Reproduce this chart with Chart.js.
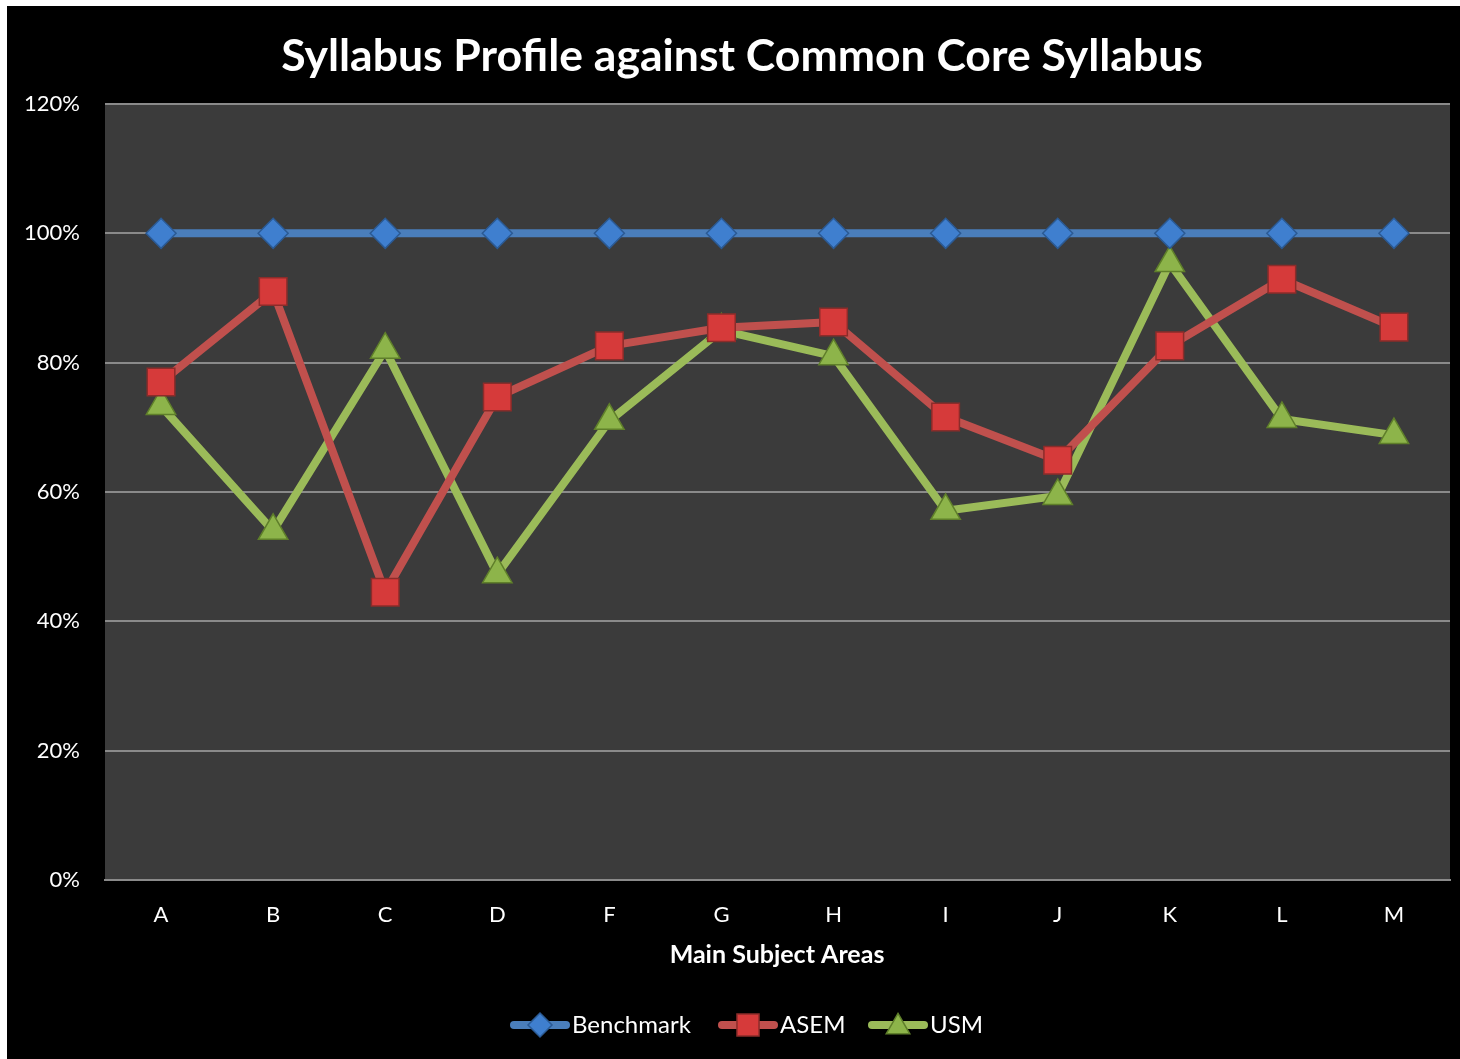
<!DOCTYPE html>
<html>
<head>
<meta charset="utf-8">
<script src="https://cdn.jsdelivr.net/npm/chart.js@4/dist/chart.umd.min.js"></script>
<style>
  html, body { margin: 0; padding: 0; background: #ffffff; }
  #wrap { position: absolute; left: 7px; top: 6px; width: 1453px; height: 1053px; background: #000000; }
  canvas { display: block; }
</style>
</head>
<body>
<div id="wrap"><canvas id="c" width="1453" height="1053"></canvas></div>
<script>
const titleText = 'Syllabus Profile against Common Core Syllabus';
const xAxisTitle = 'Main Subject Areas';
const categories = ['A', 'B', 'C', 'D', 'F', 'G', 'H', 'I', 'J', 'K', 'L', 'M'];
const benchmark = [100, 100, 100, 100, 100, 100, 100, 100, 100, 100, 100, 100];
const asem = [77, 91, 44.5, 74.7, 82.6, 85.4, 86.3, 71.6, 64.9, 82.6, 92.9, 85.5];
const usm = [73.3, 54, 82, 47.3, 71, 85, 81, 57.1, 59.4, 95.4, 71.3, 68.8];
const yTicks = [0, 20, 40, 60, 80, 100, 120];

const FONT = 'Lato, "Open Sans", sans-serif';
// canvas origin is at page (7,6)
const PLOT_L = 105 - 7, PLOT_R = 1450 - 7, PLOT_T = 104 - 6, PLOT_B = 880 - 6;

const plotBg = {
  id: 'plotBg',
  beforeDraw(chart) {
    const { ctx, chartArea: a } = chart;
    ctx.save();
    ctx.fillStyle = '#3b3b3b';
    ctx.fillRect(a.left, a.top, a.right - a.left, a.bottom - a.top);
    ctx.restore();
  }
};

const titlePlugin = {
  id: 'customTitle',
  afterDraw(chart) {
    const ctx = chart.ctx;
    ctx.save();
    ctx.fillStyle = '#ffffff';
    ctx.font = 'bold 44.5px ' + FONT;
    ctx.textAlign = 'center';
    ctx.textBaseline = 'middle';
    ctx.fillText(titleText, 742 - 7, 57 - 6);
    ctx.restore();
  }
};

function drawMarker(ctx, style, r, x, y) {
  if (style === 'rectRot') {
    ctx.moveTo(x, y - r); ctx.lineTo(x + r, y); ctx.lineTo(x, y + r); ctx.lineTo(x - r, y); ctx.closePath();
  } else if (style === 'rect') {
    const s = r * Math.SQRT1_2; ctx.rect(x - s, y - s, 2 * s, 2 * s);
  } else {
    ctx.moveTo(x, y - r); ctx.lineTo(x + r * 0.866, y + r / 2); ctx.lineTo(x - r * 0.866, y + r / 2); ctx.closePath();
  }
}

const legendPlugin = {
  id: 'customLegend',
  afterDraw(chart) {
    const ctx = chart.ctx;
    const starts = [510, 718, 868];
    const y = 1025 - 6;
    ctx.save();
    chart.data.datasets.forEach((ds, i) => {
      const x0 = starts[i] - 7;
      ctx.strokeStyle = ds.borderColor;
      ctx.lineWidth = 8;
      ctx.lineCap = 'round';
      ctx.beginPath();
      ctx.moveTo(x0 + 4, y);
      ctx.lineTo(x0 + 56, y);
      ctx.stroke();
      ctx.fillStyle = ds.pointBackgroundColor;
      ctx.strokeStyle = ds.pointBorderColor;
      ctx.lineWidth = ds.pointBorderWidth;
      ctx.beginPath();
      drawMarker(ctx, ds.pointStyle, ds.pointRadius * 0.8, x0 + 30, y + (ds.pointStyle === 'triangle' ? 2 : 0));
      ctx.fill();
      ctx.stroke();
      ctx.fillStyle = '#ffffff';
      ctx.font = '24px ' + FONT;
      ctx.textAlign = 'left';
      ctx.textBaseline = 'middle';
      ctx.fillText(ds.label, x0 + 62, y);
    });
    ctx.restore();
  }
};

const xTitlePlugin = {
  id: 'xTitle',
  afterDraw(chart) {
    const ctx = chart.ctx;
    ctx.save();
    ctx.fillStyle = '#ffffff';
    ctx.font = 'bold 25px ' + FONT;
    ctx.textAlign = 'center';
    ctx.textBaseline = 'middle';
    ctx.fillText(xAxisTitle, 777 - 7, 955 - 6);
    ctx.restore();
  }
};

new Chart(document.getElementById('c'), {
  type: 'line',
  data: {
    labels: categories,
    datasets: [
      {
        label: 'Benchmark', data: benchmark,
        borderColor: '#4a7ebb', borderWidth: 8,
        pointStyle: 'rectRot', pointRadius: 15, pointHoverRadius: 15,
        pointBackgroundColor: '#3f7fcf', pointBorderColor: '#2b5a94', pointBorderWidth: 1.5
      },
      {
        label: 'ASEM', data: asem,
        borderColor: '#c0504d', borderWidth: 8,
        pointStyle: 'rect', pointRadius: 19.5, pointHoverRadius: 19.5,
        pointBackgroundColor: '#d63a3a', pointBorderColor: '#8c2c2a', pointBorderWidth: 1.5
      },
      {
        label: 'USM', data: usm,
        borderColor: '#9bbb59', borderWidth: 8,
        pointStyle: 'triangle', pointRadius: 17, pointHoverRadius: 17,
        pointBackgroundColor: '#8db44a', pointBorderColor: '#5f7f2a', pointBorderWidth: 1.5
      }
    ]
  },
  options: {
    responsive: false,
    animation: false,
    events: [],
    layout: { autoPadding: false, padding: { left: 0, right: 1453 - PLOT_R, top: PLOT_T, bottom: 0 } },
    plugins: { legend: { display: false }, title: { display: false }, tooltip: { enabled: false } },
    elements: { line: { tension: 0, borderJoinStyle: 'round', borderCapStyle: 'round' } },
    scales: {
      x: {
        offset: true,
        grid: { display: false, drawTicks: false },
        border: { display: true, color: '#8a8a8a', width: 2 },
        ticks: { color: '#ffffff', font: { family: FONT, size: 22 }, padding: 22 },
        afterFit(scale) { scale.height = 1053 - PLOT_B; }
      },
      y: {
        min: 0, max: 120,
        afterBuildTicks(scale) { scale.ticks = yTicks.map(v => ({ value: v })); },
        grid: { color: '#8a8a8a', lineWidth: 2, drawTicks: false },
        border: { display: false },
        ticks: {
          color: '#ffffff', font: { family: FONT, size: 22 }, padding: 25,
          callback: v => v + '%'
        },
        afterFit(scale) { scale.width = PLOT_L; }
      }
    }
  },
  plugins: [plotBg, titlePlugin, legendPlugin, xTitlePlugin]
});
</script>
</body>
</html>
